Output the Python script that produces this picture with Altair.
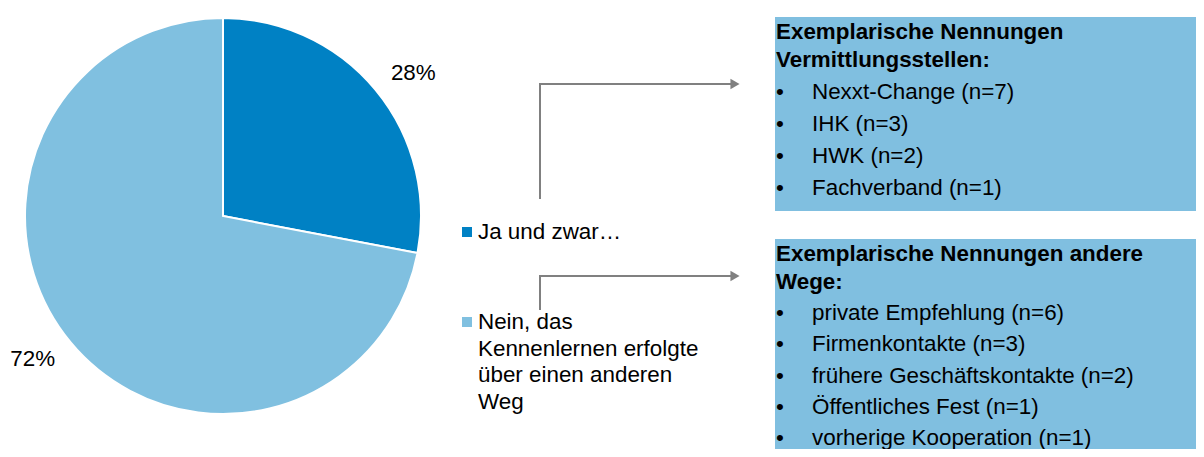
import altair as alt
import pandas as pd

# ---- data ----
categories = ["Ja und zwar…", "Nein, das Kennenlernen erfolgte über einen anderen Weg"]
shares = [28, 72]
colors = ["#0081C4", "#80C0E0"]
legend_lines = [["Ja und zwar…"], ["Nein, das", "Kennenlernen erfolgte", "über einen anderen", "Weg"]]

box1_title = ["Exemplarische Nennungen", "Vermittlungsstellen:"]
box1_items = ["Nexxt-Change (n=7)", "IHK (n=3)", "HWK (n=2)", "Fachverband (n=1)"]
box2_title = ["Exemplarische Nennungen andere", "Wege:"]
box2_items = ["private Empfehlung (n=6)", "Firmenkontakte (n=3)",
              "frühere Geschäftskontakte (n=2)", "Öffentliches Fest (n=1)",
              "vorherige Kooperation (n=1)"]

FONT = "Liberation Sans"
FS = 22.4
OFF = 8  # page margin


def P(v):
    return v - OFF


# ---- pie ----
pie_df = pd.DataFrame({
    "cat": categories,
    "share": shares,
    "order": list(range(len(categories))),
    "label": [f"{s}%" for s in shares],
})
cx, cy, R = P(223), P(216), 198

arcs = alt.Chart(pie_df).mark_arc(outerRadius=R, stroke="white", strokeWidth=2).encode(
    theta=alt.Theta("share:Q", stack=True),
    order=alt.Order("order:Q"),
    color=alt.Color("cat:N", scale=alt.Scale(domain=categories, range=colors), legend=None),
    x=alt.value(cx), y=alt.value(cy),
)
pie_labels = alt.Chart(pie_df).transform_window(
    cum="sum(share)", sort=[alt.SortField("order")]
).transform_joinaggregate(total="sum(share)").transform_calculate(
    ang="(datum.cum - datum.share / 2) / datum.total * 2 * PI + 0.047"
).mark_text(radius=238, font=FONT, fontSize=FS, color="#000000").encode(
    theta=alt.Theta("ang:Q", scale=None, stack=None),
    text="label:N",
    x=alt.value(cx), y=alt.value(cy),
)

# ---- legend (manual) ----
leg_sq_y = [232, 322]
leg_sq_df = pd.DataFrame({"cat": categories, "ci": list(range(len(categories)))})
leg_squares = alt.Chart(leg_sq_df).mark_square(size=100, opacity=1).transform_calculate(
    py=f"datum.ci == 0 ? {P(leg_sq_y[0])} : {P(leg_sq_y[1])}"
).encode(
    x=alt.value(P(467)),
    y=alt.Y("py:Q", scale=None, axis=None),
    color=alt.Color("cat:N", scale=alt.Scale(domain=categories, range=colors), legend=None),
)
leg_text_rows = []
for ci, lines in enumerate(legend_lines):
    for li, t in enumerate(lines):
        leg_text_rows.append({"t": t, "ci": ci, "li": li})
leg_text = alt.Chart(pd.DataFrame(leg_text_rows)).mark_text(
    align="left", baseline="middle", font=FONT, fontSize=FS, color="#000000"
).transform_calculate(
    py=f"(datum.ci == 0 ? {P(leg_sq_y[0])} : {P(leg_sq_y[1])}) + datum.li * 26.5"
).encode(
    x=alt.value(P(478)),
    y=alt.Y("py:Q", scale=None, axis=None),
    text="t:N",
)

# ---- arrows ----
GRAY = "#808080"
def arrow(y_top, y_bottom):
    one = pd.DataFrame({"a": [0]})
    v = alt.Chart(one).mark_rule(color=GRAY, strokeWidth=2).encode(
        x=alt.value(P(540)), y=alt.value(P(y_top)), y2=alt.value(P(y_bottom)))
    h = alt.Chart(one).mark_rule(color=GRAY, strokeWidth=2).encode(
        x=alt.value(P(539)), x2=alt.value(P(733)), y=alt.value(P(y_top)))
    head = alt.Chart(one).mark_point(
        shape="triangle-right", filled=True, size=110, color=GRAY, opacity=1).encode(
        x=alt.value(P(735)), y=alt.value(P(y_top)))
    return v + h + head

arrows = arrow(84, 199) + arrow(276, 310)

# ---- boxes ----
BOX = "#80BFE0"
def box(y_top, y_bottom, titles, items, title_y0, item_y0, item_dy):
    rect = alt.Chart(pd.DataFrame({"a": [0]})).mark_rect(color=BOX).encode(
        x=alt.value(P(775)), x2=alt.value(P(1204)),
        y=alt.value(P(y_top)), y2=alt.value(P(y_bottom)))
    tdf = pd.DataFrame({"t": titles, "i": list(range(len(titles)))})
    tl = alt.Chart(tdf).mark_text(
        align="left", baseline="middle", font=FONT, fontSize=FS, fontWeight="bold", color="#000000"
    ).transform_calculate(py=f"{P(title_y0)} + datum.i * 28").encode(
        x=alt.value(P(776)), y=alt.Y("py:Q", scale=None, axis=None), text="t:N")
    idf = pd.DataFrame({"t": items, "i": list(range(len(items)))})
    il = alt.Chart(idf).mark_text(
        align="left", baseline="middle", font=FONT, fontSize=FS, color="#000000"
    ).transform_calculate(py=f"{P(item_y0)} + datum.i * {item_dy}").encode(
        x=alt.value(P(812)), y=alt.Y("py:Q", scale=None, axis=None), text="t:N")
    bl = alt.Chart(idf).mark_text(
        align="center", baseline="middle", font=FONT, fontSize=FS, color="#000000"
    ).transform_calculate(py=f"{P(item_y0)} + datum.i * {item_dy}", b="'•'").encode(
        x=alt.value(P(780)), y=alt.Y("py:Q", scale=None, axis=None), text="b:N")
    return rect + tl + il + bl

box1 = box(17, 211, box1_title, box1_items, 32, 92, 32)
box2 = box(239, 460, box2_title, box2_items, 254, 313, 31.25)

chart = alt.layer(arcs, pie_labels, leg_squares, leg_text, arrows, box1, box2).properties(
    width=1188, height=441, padding=0, background="white",
    autosize=alt.AutoSizeParams(type="none")
).configure_view(stroke=None)

chart.save("out.html", embed_options={"renderer": "svg", "actions": False})
